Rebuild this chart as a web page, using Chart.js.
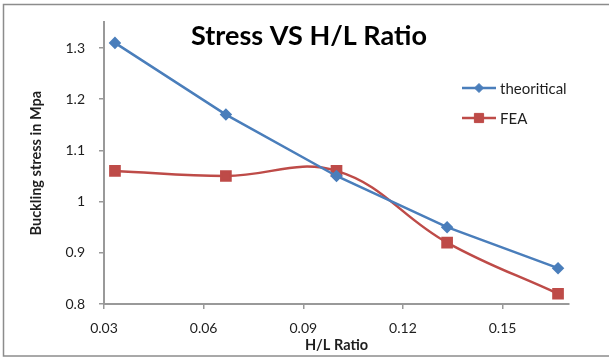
<!DOCTYPE html>
<html>
<head>
<meta charset="utf-8">
<script src="https://cdn.jsdelivr.net/npm/chart.js@4/dist/chart.umd.min.js"></script>
<style>
  html, body { margin: 0; padding: 0; background: #ffffff; }
  #wrap { width: 609px; height: 358px; position: relative; }
</style>
</head>
<body>
<div id="wrap"><canvas id="c" width="609" height="358"></canvas></div>
<script>
// H/L ratio of each tested section
const hlRatio = [0.0333, 0.0667, 0.1, 0.1333, 0.1667];
// Buckling stress (MPa)
const theoretical = [1.31, 1.17, 1.05, 0.95, 0.87];
const fea = [1.06, 1.05, 1.06, 0.92, 0.82];

const seriesNames = ['theoritical', 'FEA'];
const chartTitle = 'Stress VS H/L Ratio';
const xTitle = 'H/L Ratio';
const yTitle = 'Buckling stress in Mpa';
const xTickLabels = ['0.03', '0.06', '0.09', '0.12', '0.15'];
const yTickLabels = ['0.8', '0.9', '1', '1.1', '1.2', '1.3'];

const FONT = "Lato, 'Open Sans', 'Liberation Sans', sans-serif";
const BLUE = '#4a7ebb';
const RED = '#be4b48';
const AXIS = '#999999';
const INK = '#1e1e1e';

const toPoints = (ys) => ys.map((y, i) => ({ x: hlRatio[i], y }));
const keepTicks = (labels) => (scale) => {
  scale.ticks = labels.map((l) => ({ value: parseFloat(l) }));
};
const tickText = (labels) => (value, index) => labels[index];

// Frame, heading and the legend box drawn onto the canvas
const decor = {
  id: 'decor',
  beforeDraw(chart) {
    const ctx = chart.ctx;
    ctx.save();
    ctx.fillStyle = '#ffffff';
    ctx.fillRect(0, 0, chart.width, chart.height);
    ctx.strokeStyle = '#8c8c8c';
    ctx.lineWidth = 1.5;
    ctx.strokeRect(3.5, 4.5, chart.width + 20, 351.5);
    ctx.restore();
  },
  afterDraw(chart) {
    const ctx = chart.ctx;
    ctx.save();
    ctx.fillStyle = '#000000';
    ctx.font = "bold 27px " + FONT;
    ctx.textAlign = 'center';
    ctx.textBaseline = 'alphabetic';
    ctx.fillText(chartTitle, 309, 45);

    const rows = [88, 118];
    chart.data.datasets.forEach((ds, i) => {
      const y = rows[i];
      ctx.strokeStyle = ds.borderColor;
      ctx.lineWidth = ds.borderWidth;
      ctx.beginPath();
      ctx.moveTo(462, y);
      ctx.lineTo(496, y);
      ctx.stroke();
      ctx.fillStyle = ds.pointBackgroundColor;
      ctx.strokeStyle = ds.pointBorderColor;
      ctx.lineWidth = 1;
      Chart.helpers.drawPoint(ctx, { pointStyle: ds.pointStyle, radius: ds.pointRadius, borderWidth: 1, rotation: 0 }, 479, y);
      ctx.fillStyle = INK;
      ctx.font = "15px " + FONT;
      ctx.textAlign = 'left';
      ctx.textBaseline = 'middle';
      ctx.fillText(ds.label, 500, y + 1);
    });
    ctx.restore();
  }
};

new Chart(document.getElementById('c'), {
  type: 'scatter',
  data: {
    datasets: [
      {
        label: seriesNames[0],
        data: toPoints(theoretical),
        showLine: true,
        borderColor: BLUE,
        backgroundColor: BLUE,
        borderWidth: 2.5,
        pointStyle: 'rectRot',
        pointRadius: 4.5,
        pointBackgroundColor: BLUE,
        pointBorderColor: BLUE,
        tension: 0
      },
      {
        label: seriesNames[1],
        data: toPoints(fea),
        showLine: true,
        borderColor: RED,
        backgroundColor: RED,
        borderWidth: 2.5,
        pointStyle: 'rect',
        pointRadius: 6.5,
        pointBackgroundColor: RED,
        pointBorderColor: RED,
        tension: 0.4
      }
    ]
  },
  options: {
    responsive: false,
    animation: false,
    devicePixelRatio: 1,
    layout: { padding: { left: 0, top: 22, right: 40, bottom: 0 } },
    plugins: {
      legend: { display: false },
      title: { display: false },
      tooltip: { enabled: false }
    },
    scales: {
      x: {
        type: 'linear',
        bounds: 'data',
        min: 0.03,
        max: 0.17,
        afterBuildTicks: keepTicks(xTickLabels),
        afterFit(scale) { scale.height = 54; },
        ticks: {
          callback: tickText(xTickLabels),
          padding: 11,
          color: INK,
          font: { family: FONT, size: 14 },
          maxRotation: 0
        },
        grid: { drawOnChartArea: false, drawTicks: true, tickLength: 5, color: AXIS, lineWidth: 1.5 },
        border: { color: AXIS, width: 2 },
        title: {
          display: true,
          text: xTitle,
          color: INK,
          font: { family: FONT, size: 14.5, weight: 'bold' },
          padding: { top: 0, bottom: 4 }
        }
      },
      y: {
        type: 'linear',
        bounds: 'data',
        min: 0.8,
        max: 1.35,
        afterBuildTicks: keepTicks(yTickLabels),
        afterFit(scale) { scale.width = 104; },
        ticks: {
          callback: tickText(yTickLabels),
          padding: 14,
          color: INK,
          font: { family: FONT, size: 14 }
        },
        grid: { drawOnChartArea: false, drawTicks: true, tickLength: 5, color: AXIS, lineWidth: 1.5 },
        border: { color: AXIS, width: 2 },
        title: {
          display: true,
          text: yTitle,
          color: INK,
          font: { family: FONT, size: 14.5, weight: 'bold' },
          padding: { top: 28, bottom: 0 }
        }
      }
    }
  },
  plugins: [decor]
});
</script>
</body>
</html>
